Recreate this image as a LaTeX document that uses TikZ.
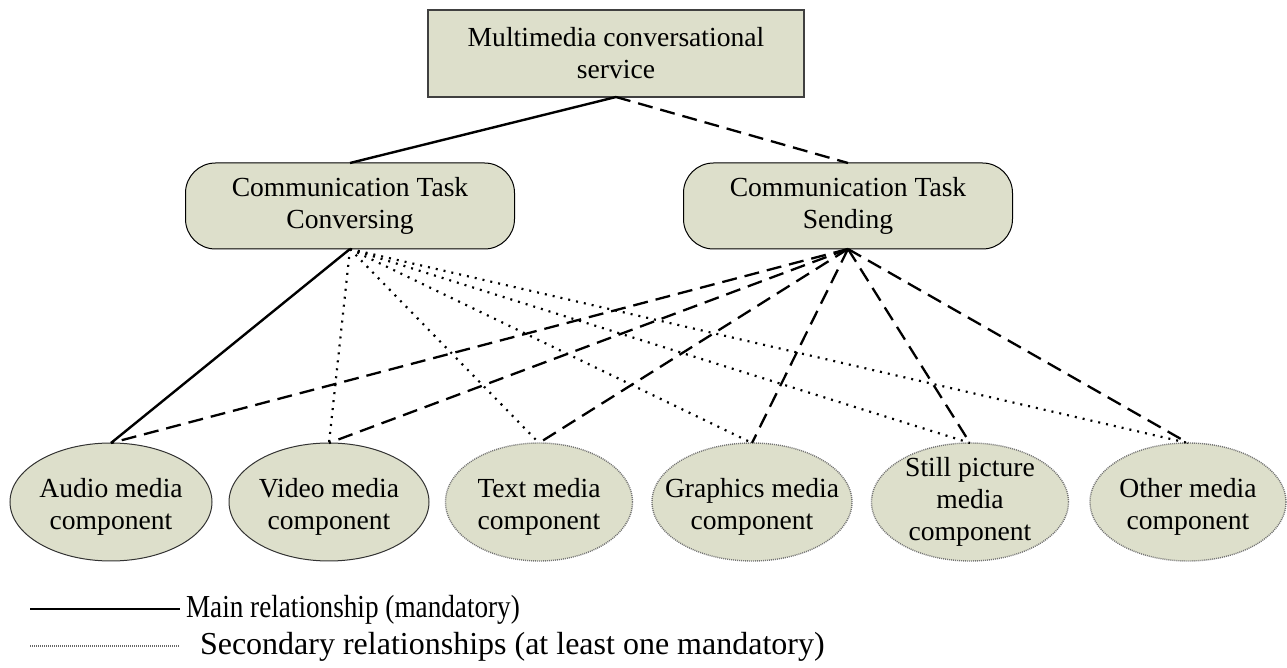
\documentclass[tikz,border=0pt]{standalone}
\usepackage{fontspec}
\usepackage{graphicx}
\setmainfont{Liberation Serif}
\usetikzlibrary{shapes.geometric}
\definecolor{boxfill}{RGB}{221,223,203}
\begin{document}
\begin{tikzpicture}[x=0.5pt,y=-0.5pt,
  every node/.style={font=\fontsize{13.8}{16}\selectfont, align=center, inner sep=0pt, outer sep=0pt},
  servicebox/.style={draw=black!75, line width=0.6pt, fill=boxfill, minimum width=188pt, minimum height=43.5pt},
  taskbox/.style={draw=black, line width=0.5pt, fill=boxfill, rounded corners=15pt, minimum width=164.5pt, minimum height=43pt},
  compsolid/.style={ellipse, draw=black!80, line width=0.5pt, fill=boxfill, minimum height=59pt},
  compdotted/.style={ellipse, draw=black!55, dash pattern=on 0.5pt off 0.5pt, line width=0.7pt, fill=boxfill, minimum height=59pt},
  mainrel/.style={line width=1.2pt},
  secrel/.style={line width=1.1pt, dash pattern=on 1pt off 3pt},
  sendrel/.style={line width=1.15pt, dash pattern=on 7.5pt off 4pt},
  legendtext/.style={anchor=west, font=\fontsize{16}{18}\selectfont},
]
\useasboundingbox (0,0) rectangle (1287,668);

% top level service
\node[servicebox] (svc) at (616,53.5) {Multimedia conversational\\service};

% communication tasks
\node[taskbox] (conv) at (350,206) {Communication Task\\Conversing};
\node[taskbox] (send) at (848,206) {Communication Task\\Sending};

% media components (ellipse outlines, then their labels)
\node[compsolid,  minimum width=101pt]  (audio) at (111,502) {};
\node[compsolid,  minimum width=100pt]  (video) at (329,502) {};
\node[compdotted, minimum width=93.5pt] (text)  at (539,502) {};
\node[compdotted, minimum width=100pt]  (graph) at (752,502) {};
\node[compdotted, minimum width=98.5pt] (still) at (970,502) {};
\node[compdotted, minimum width=98pt]   (other) at (1188,502) {};

\node (audiot) at ([yshift=-2.5pt]audio.center) {Audio media\\component};
\node (videot) at ([yshift=-2.5pt]video.center) {Video media\\component};
\node (textt)  at ([yshift=-2.5pt]text.center)  {Text media\\component};
\node (grapht) at ([yshift=-2.5pt]graph.center) {Graphics media\\component};
\node (stillt) at (still) {Still picture\\media\\component};
\node (othert) at ([yshift=-2.5pt]other.center) {Other media\\component};

% service to tasks
\draw[mainrel] (svc.south) -- (conv.north);
\draw[sendrel] (svc.south) -- (send.north);

% conversing task to components
\draw[mainrel] (conv.south) -- (audio.north);
\foreach \c in {video,text,graph,still,other}
  \draw[secrel] (conv.south) -- (\c.north);

% sending task to components
\foreach \c in {audio,video,text,graph,still,other}
  \draw[sendrel] (send.south) -- (\c.north);

% legend
\coordinate (la) at (30,609);
\coordinate (lb) at (180,609);
\coordinate (lc) at (30,646);
\coordinate (ld) at (180,646);
\draw[line width=0.7pt] (la) -- (lb);
\draw[draw=black!60, line width=0.8pt, dash pattern=on 0.5pt off 0.5pt] (lc) -- (ld);
\node[legendtext] (lmain) at (186,610) {\scalebox{0.85}[1]{Main relationship (mandatory)}};
\node[legendtext] (lsec)  at (200,647) {Secondary relationships (at least one mandatory)};
\end{tikzpicture}
\end{document}
